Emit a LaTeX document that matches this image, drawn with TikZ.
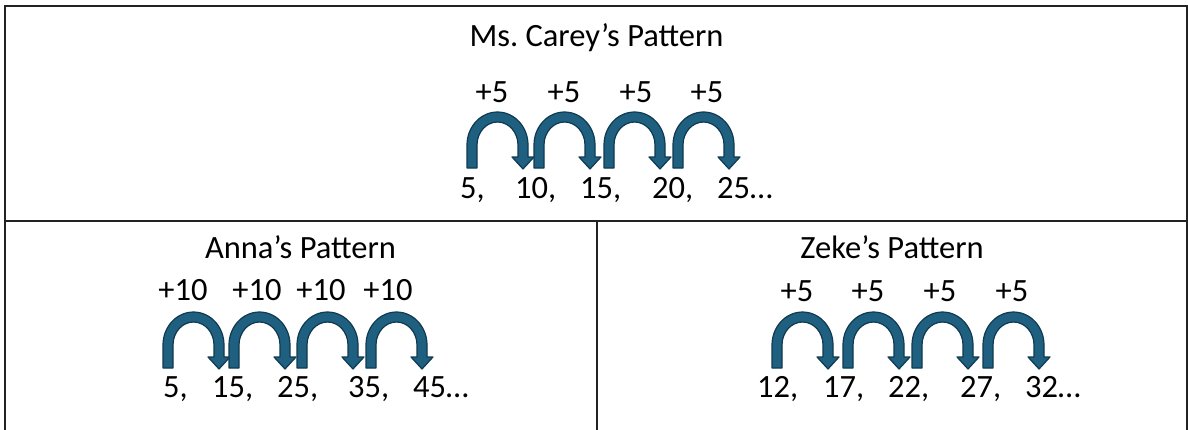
\documentclass[tikz,border=0pt]{standalone}
\usepackage{fontspec}
\setmainfont{Carlito}
\definecolor{arrowfill}{HTML}{1F5F80}
\definecolor{arrowline}{HTML}{0F3A50}
\definecolor{rule}{HTML}{222222}
\begin{document}
\begin{tikzpicture}[x=1pt,y=1pt,
  txt/.style={inner sep=0pt, font=\fontsize{32.5}{38}\selectfont},
  numtxt/.style={txt, anchor=base west},
  steplabel/.style={txt, anchor=base},
  frameline/.style={line width=2pt, draw=rule},
  jump/.pic={
    \filldraw[fill=arrowfill, draw=arrowline, line width=1.2pt, line join=round]
      (0,0) -- (0,23) arc[start angle=180, end angle=0, x radius=30.5, y radius=33]
      -- (61,11) -- (67,11) -- (56,-1) -- (45,11) -- (51,11) -- (51,23)
      arc[start angle=0, end angle=180, x radius=20.5, y radius=23]
      -- (10,0) -- cycle;
  }]
\useasboundingbox (0,0) rectangle (1188,-429);
% frame
\coordinate (tl) at (5,-6);
\coordinate (br) at (1187,-432);
\coordinate (ml) at (5,-221);
\coordinate (mr) at (1187,-221);
\coordinate (vt) at (597,-221);
\coordinate (vb) at (597,-432);
\draw[frameline] (tl) rectangle (br);
\draw[frameline] (ml) -- (mr);
\draw[frameline] (vt) -- (vb);

% top panel
\node[txt, anchor=base] (ctitle) at (596.5,-46) {Ms.\ Carey’s Pattern};
\node[steplabel] (cl1) at (492,-102) {+5};
\node[steplabel] (cl2) at (564,-102) {+5};
\node[steplabel] (cl3) at (636,-102) {+5};
\node[steplabel] (cl4) at (707,-102) {+5};
\pic at (467,-168) {jump};
\pic at (534,-168) {jump};
\pic at (604,-168) {jump};
\pic at (673,-168) {jump};
\node[numtxt] (cn1) at (460,-198) {5,};
\node[numtxt] (cn2) at (515,-198) {10,};
\node[numtxt] (cn3) at (580,-198) {15,};
\node[numtxt] (cn4) at (652,-198) {20,};
\node[numtxt] (cn5) at (717,-198) {25…};

% Anna
\node[txt, anchor=base] (atitle) at (300.5,-258) {Anna’s Pattern};
\node[steplabel] (al1) at (183,-300) {+10};
\node[steplabel] (al2) at (257,-300) {+10};
\node[steplabel] (al3) at (321,-300) {+10};
\node[steplabel] (al4) at (388,-300) {+10};
\pic at (163,-368) {jump};
\pic at (229,-368) {jump};
\pic at (297,-368) {jump};
\pic at (366,-368) {jump};
\node[numtxt] (an1) at (163,-397) {5,};
\node[numtxt] (an2) at (212,-397) {15,};
\node[numtxt] (an3) at (277,-397) {25,};
\node[numtxt] (an4) at (348,-397) {35,};
\node[numtxt] (an5) at (413,-397) {45…};

% Zeke
\node[txt, anchor=base] (ztitle) at (892,-258) {Zeke’s Pattern};
\node[steplabel] (zl1) at (797,-301) {+5};
\node[steplabel] (zl2) at (868,-301) {+5};
\node[steplabel] (zl3) at (940,-301) {+5};
\node[steplabel] (zl4) at (1012,-301) {+5};
\pic at (772,-368) {jump};
\pic at (843,-368) {jump};
\pic at (912,-368) {jump};
\pic at (983,-368) {jump};
\node[numtxt] (zn1) at (757,-397) {12,};
\node[numtxt] (zn2) at (823,-397) {17,};
\node[numtxt] (zn3) at (888,-397) {22,};
\node[numtxt] (zn4) at (960,-397) {27,};
\node[numtxt] (zn5) at (1025,-397) {32…};
\end{tikzpicture}
\end{document}
